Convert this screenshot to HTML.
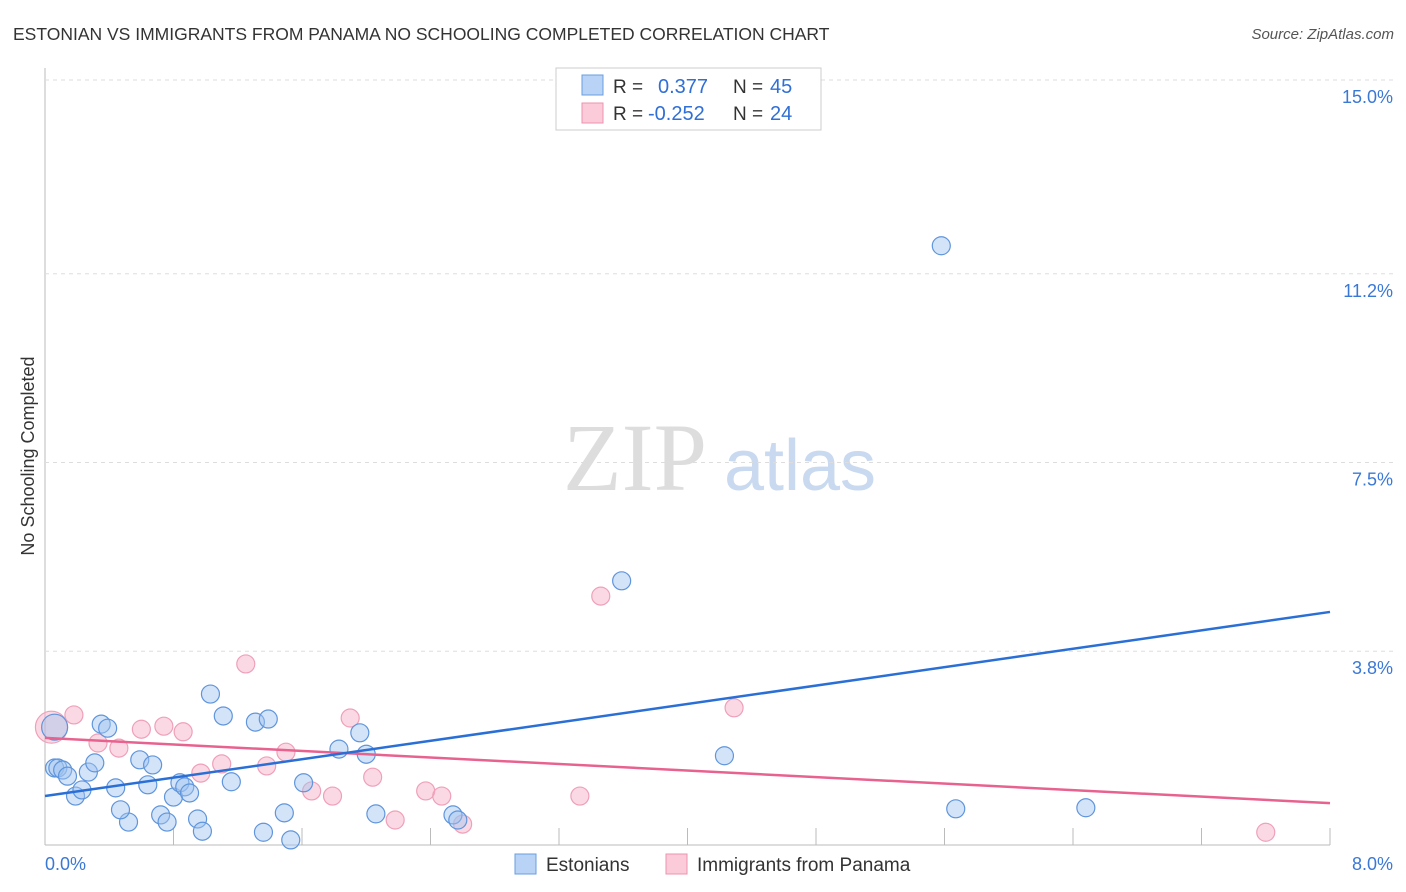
<!DOCTYPE html>
<html><head><meta charset="utf-8"><style>
body{margin:0;background:#fff;font-family:"Liberation Sans",sans-serif;}
svg{display:block}
</style></head><body>
<svg id="chart" width="1406" height="892" xmlns="http://www.w3.org/2000/svg">
<text x="13" y="40" font-size="17.5" fill="#333">ESTONIAN VS IMMIGRANTS FROM PANAMA NO SCHOOLING COMPLETED CORRELATION CHART</text>
<text x="1394" y="39" font-size="15" fill="#555" font-style="italic" text-anchor="end">Source: ZipAtlas.com</text>
<text x="34" y="456" font-size="18" fill="#333" text-anchor="middle" transform="rotate(-90 34 456)">No Schooling Completed</text>
<g><text x="635" y="490" font-size="96" fill="#ddd" font-family="Liberation Serif,serif" text-anchor="middle">ZIP</text><text x="800" y="490" font-size="72" fill="#c9d9f0" text-anchor="middle">atlas</text></g>
<g id="grid"></g><g id="pts"></g><g id="lines"></g>
<g>
<rect x="556" y="68" width="265" height="62" fill="#fff" stroke="#ccc"/>
<rect x="582" y="75" width="21" height="20" fill="#b8d3f5" stroke="#6a9de0"/>
<rect x="582" y="103" width="21" height="20" fill="#fbcbd9" stroke="#ec93ae"/>
<text x="613" y="93" font-size="19" fill="#333">R = </text><text x="658" y="93" font-size="20" fill="#2f6fd6">0.377</text>
<text x="733" y="93" font-size="19" fill="#333">N = </text><text x="770" y="93" font-size="20" fill="#2f6fd6">45</text>
<text x="613" y="120" font-size="19" fill="#333">R = </text><text x="648" y="120" font-size="20" fill="#2f6fd6">-0.252</text>
<text x="733" y="120" font-size="19" fill="#333">N = </text><text x="770" y="120" font-size="20" fill="#2f6fd6">24</text>
</g>
<g>
<rect x="515" y="854" width="21" height="20" fill="#b8d3f5" stroke="#6a9de0"/>
<text x="546" y="871" font-size="19" fill="#333">Estonians</text>
<rect x="666" y="854" width="21" height="20" fill="#fbcbd9" stroke="#ec93ae"/>
<text x="697" y="871" font-size="19" fill="#333">Immigrants from Panama</text>
</g>
</svg>
<script>
const yTicks=[3.8,7.5,11.2,15.0];
const yTickLabels=["3.8%","7.5%","11.2%","15.0%"];
const xTicks=[0.8,1.6,2.4,3.2,4.0,4.8,5.6,6.4,7.2,8.0];
const blueX=[0.06,0.06,0.08,0.11,0.14,0.19,0.23,0.27,0.31,0.35,0.39,0.44,0.52,0.47,0.59,0.64,0.67,0.72,0.76,0.80,0.84,0.87,0.90,0.95,0.98,1.03,1.11,1.16,1.31,1.36,1.39,1.49,1.53,1.61,1.83,1.96,2.00,2.06,2.54,2.57,3.59,4.23,5.58,5.67,6.48];
const blueY=[2.31,1.51,1.51,1.47,1.35,0.96,1.08,1.43,1.61,2.37,2.29,1.12,0.45,0.69,1.67,1.18,1.57,0.59,0.45,0.94,1.22,1.14,1.02,0.51,0.27,2.96,2.53,1.24,2.41,0.25,2.47,0.63,0.10,1.22,1.88,2.20,1.78,0.61,0.59,0.49,5.18,1.75,11.75,0.71,0.73];
const pinkX=[0.04,0.18,0.33,0.46,0.60,0.74,0.86,0.97,1.10,1.25,1.38,1.50,1.66,1.79,1.90,2.04,2.18,2.37,2.47,2.60,3.33,3.46,4.29,7.60];
const pinkY=[2.31,2.55,2.00,1.90,2.27,2.33,2.22,1.41,1.59,3.55,1.55,1.82,1.06,0.96,2.49,1.33,0.49,1.06,0.96,0.41,0.96,4.88,2.69,0.25];
const blueTrend=[0.96,4.57];
const pinkTrend=[2.10,0.82];
const NS='http://www.w3.org/2000/svg';
const X=v=>45+v*1285/8, Y=v=>845-v*765/15;
function mk(t,a,p){const e=document.createElementNS(NS,t);for(const k in a)e.setAttribute(k,a[k]);p.appendChild(e);return e;}
const g=document.getElementById('grid');
mk('line',{x1:45,y1:68,x2:45,y2:845,stroke:'#bbb'},g);
mk('line',{x1:45,y1:845,x2:1330,y2:845,stroke:'#bbb'},g);
yTicks.forEach((v,i)=>{const yy=v===15?80:Y(v);
const l=mk('line',{x1:45,y1:yy,x2:1395,y2:yy,stroke:'#ddd','stroke-dasharray':'4,4'},g);


const t=mk('text',{x:1393,y:yy+23,'font-size':18,fill:'#3a78d6','text-anchor':'end'},g);t.textContent=yTickLabels[i];

});
xTicks.forEach(v=>{const l=mk('line',{x1:X(v),y1:828,x2:X(v),y2:845,stroke:'#bbb'},g);

});
let t=mk('text',{x:45,y:870,'font-size':18,fill:'#3a78d6'},g);t.textContent='0.0%';


t=mk('text',{x:1393,y:870,'font-size':18,fill:'#3a78d6','text-anchor':'end'},g);t.textContent='8.0%';


const p=document.getElementById('pts');
pinkX.forEach((v,i)=>{const c=mk('circle',{cx:X(v),cy:Y(pinkY[i]),r:i===0?16:9,fill:'rgba(247,170,195,0.45)',stroke:'#efa0b8','stroke-width':1.2},p);

});
blueX.forEach((v,i)=>{const c=mk('circle',{cx:X(v),cy:Y(blueY[i]),r:i===0?13:9,fill:'rgba(160,195,240,0.45)',stroke:'#5f95dc','stroke-width':1.2},p);

});
const L=document.getElementById('lines');
let a=mk('line',{x1:X(0),y1:Y(pinkTrend[0]),x2:X(8),y2:Y(pinkTrend[1]),stroke:'#e8628f','stroke-width':2.5},L);


a=mk('line',{x1:X(0),y1:Y(blueTrend[0]),x2:X(8),y2:Y(blueTrend[1]),stroke:'#2a6fd6','stroke-width':2.5},L);


</script>
</body></html>
